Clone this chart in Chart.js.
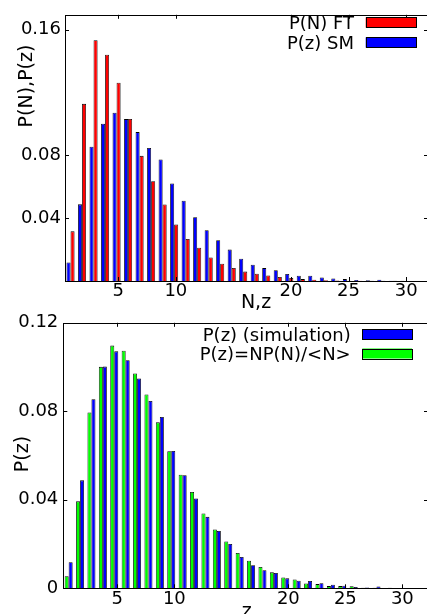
<!DOCTYPE html>
<html><head><meta charset="utf-8">
<script src="https://cdn.jsdelivr.net/npm/chart.js@4.4.1/dist/chart.umd.min.js"></script>
<style>
html,body{margin:0;padding:0;background:#fff;overflow:hidden;width:427px;height:614px;position:relative;}
canvas{position:absolute;left:0;}
#c1{top:0}
#c2{top:307px}
</style></head><body>
<canvas id="c1" width="430" height="320"></canvas>
<canvas id="c2" width="430" height="320"></canvas>
<script>
// ---- data ----
const N_VALUES = [1,2,3,4,5,6,7,8,9,10,11,12,13,14,15,16,17,18,19,20,21,22,23,24,25,26,27,28,29,30];
const P_N_FT = [0.0316,0.1128,0.1533,0.1441,0.1263,0.1032,0.0797,0.0635,0.0487,0.0360,
                0.0268,0.0212,0.0150,0.0110,0.0083,0.0060,0.0046,0.0035,0.0025,0.0019,
                0.0012,0.0008,0.0005,0.0003,0.0002,0.0002,0.0001,0.0001,0.0001,0];
const P_Z_SIM = [0.0118,0.0488,0.0855,0.1002,0.1071,0.1031,0.0948,0.0847,0.0774,0.0621,
                 0.0511,0.0406,0.0323,0.0259,0.0200,0.0142,0.0104,0.0082,0.0069,0.0045,
                 0.0034,0.0033,0.0023,0.0016,0.0012,0.0006,0.0004,0.0008,0.0002,0.0001];
const P_Z_NPN = [0.0055,0.0393,0.0795,0.1001,0.1097,0.1074,0.0971,0.0876,0.0750,0.0620,
                 0.0513,0.0435,0.0338,0.0266,0.0212,0.0160,0.0125,0.0096,0.0072,0.0049,
                 0.0040,0.0022,0.0019,0.0010,0.0010,0.0009,0.0003,0.0003,0.0001,0.0001];
const X_TICKS = [5,10,20,25,30];
const TOP_Y_TICKS = [0.04,0.08,0.16];
const BOTTOM_Y_TICKS = [0,0.04,0.08,0.12];
const TOP_LEGEND = ['P(N) FT','P(z) SM'];
const BOTTOM_LEGEND = ['P(z) (simulation)','P(z)=NP(N)/<N>'];
const TOP_X_TITLE = 'N,z', TOP_Y_TITLE = 'P(N),P(z)';
const BOTTOM_X_TITLE = 'z', BOTTOM_Y_TITLE = 'P(z)';

const FONT = '"DejaVu Sans", sans-serif';
Chart.defaults.font.family = FONT;
Chart.defaults.font.size = 18;
Chart.defaults.color = '#000';

function pts(xs, ys){ return xs.map((x,i)=>({x:x, y:ys[i]})); }

const framePlugin = {
  id: 'frame',
  afterDraw(chart, args, o) {
    const ctx = chart.ctx, a = chart.chartArea;
    const L = 4;
    const r = v => Math.round(v) + 0.5;
    ctx.save();
    ctx.strokeStyle = '#000'; ctx.lineWidth = 1;
    ctx.strokeRect(r(a.left), r(a.top), Math.round(a.right) - Math.round(a.left), Math.round(a.bottom) - Math.round(a.top));
    const xs = chart.scales.xt, ys = chart.scales.y;
    ctx.beginPath();
    xs.ticks.forEach(t => {
      const p = r(xs.getPixelForValue(t.value));
      ctx.moveTo(p, a.bottom); ctx.lineTo(p, a.bottom - L);
      ctx.moveTo(p, a.top); ctx.lineTo(p, a.top + L);
    });
    ys.ticks.forEach(t => {
      const p = r(ys.getPixelForValue(t.value));
      ctx.moveTo(a.left, p); ctx.lineTo(a.left + L, p);
      ctx.moveTo(a.right, p); ctx.lineTo(a.right - L, p);
    });
    ctx.stroke();
    // legend (text then swatch)
    ctx.font = '18px ' + FONT;
    o.legend.forEach((it, i) => {
      const ds = chart.data.datasets[it];
      const cy = o.legY + i * o.legGap;
      ctx.fillStyle = '#000'; ctx.textAlign = 'right'; ctx.textBaseline = 'alphabetic';
      ctx.fillText(ds.label, o.legTextRight, cy + 6.5);
      ctx.fillStyle = ds.backgroundColor;
      ctx.fillRect(o.swX, cy - o.swH/2, o.swW, o.swH);
      ctx.strokeRect(Math.round(o.swX)+0.5, Math.round(cy - o.swH/2)+0.5, Math.round(o.swW), Math.round(o.swH));
    });
    // axis titles
    ctx.font = '19px ' + FONT;
    ctx.fillStyle = '#000'; ctx.textAlign = 'center'; ctx.textBaseline = 'alphabetic';
    ctx.fillText(o.xTitle, o.xTitleX, o.xTitleY);
    ctx.save();
    ctx.translate(o.yTitleX, o.yTitleY);
    ctx.rotate(-Math.PI/2);
    ctx.fillText(o.yTitle, 0, 0);
    ctx.restore();
    ctx.restore();
  }
};

function makeChart(id, cfg) {
  return new Chart(document.getElementById(id), {
    type: 'bar',
    data: { datasets: cfg.datasets.map(d => ({
      label: d.label, data: pts(N_VALUES, d.values),
      backgroundColor: d.color, borderColor: '#000', borderWidth: 0.8, inflateAmount: 0,
      xAxisID: 'x', yAxisID: 'y'
    })) },
    options: {
      responsive: false, animation: false, devicePixelRatio: 1,
      layout: { padding: { top: cfg.top, right: 2, left: 0, bottom: 0 } },
      datasets: { bar: { categoryPercentage: 0.7, barPercentage: 1, grouped: true } },
      scales: {
        x: { type: 'linear', display: false, offset: false, grid: { offset: false },
             min: cfg.barMin, max: cfg.barMax },
        xt: { type: 'linear', position: 'bottom', offset: false, min: cfg.xMin, max: cfg.xMax,
              afterBuildTicks: s => { s.ticks = X_TICKS.map(v => ({ value: v })); },
              afterFit: s => { s.height = cfg.xH; },
              grid: { display: false, drawTicks: false, offset: false }, border: { display: false },
              ticks: { padding: cfg.xPad, maxRotation: 0, autoSkip: false, callback: v => String(v) } },
        y: { type: 'linear', min: 0, max: cfg.yMax,
             afterBuildTicks: s => { s.ticks = cfg.yTicks.map(v => ({ value: v })); },
             afterFit: s => { s.width = cfg.left; },
             grid: { display: false, drawTicks: false }, border: { display: false },
             ticks: { padding: cfg.yPad, autoSkip: false, callback: v => String(v) } }
      },
      plugins: { legend: { display: false }, tooltip: { enabled: false }, frame: cfg.frame }
    },
    plugins: [framePlugin]
  });
}

makeChart('c1', {
  datasets: [
    { label: TOP_LEGEND[1], values: P_Z_SIM, color: '#0000ff' },
    { label: TOP_LEGEND[0], values: P_N_FT, color: '#ff0000' }
  ],
  top: 9, left: 65, xH: 39, xPad: 0, yPad: 4, yMax: 0.1695, yTicks: TOP_Y_TICKS,
  xMin: 0.37, xMax: 31.9, barMin: 0.52, barMax: 32.05,
  frame: { legend: [1, 0], legY: 22.5, legGap: 20, legTextRight: 354, swX: 365.7, swW: 50.3, swH: 10.3,
           xTitle: TOP_X_TITLE, xTitleX: 256, xTitleY: 308,
           yTitle: TOP_Y_TITLE, yTitleX: 32, yTitleY: 86 }
});

makeChart('c2', {
  datasets: [
    { label: BOTTOM_LEGEND[1], values: P_Z_NPN, color: '#00ff00' },
    { label: BOTTOM_LEGEND[0], values: P_Z_SIM, color: '#0000ff' }
  ],
  top: 13.7, left: 63.3, xH: 38.7, xPad: 0, yPad: 5, yMax: 0.12, yTicks: BOTTOM_Y_TICKS,
  xMin: 0.26, xMax: 32.25, barMin: 0.53, barMax: 32.52,
  frame: { legend: [1, 0], legY: 27.2, legGap: 19.3, legTextRight: 350.7, swX: 362.3, swW: 49.7, swH: 10,
           xTitle: BOTTOM_X_TITLE, xTitleX: 246.7, xTitleY: 309.5,
           yTitle: BOTTOM_Y_TITLE, yTitleX: 28, yTitleY: 147 }
});
</script>
</body></html>
